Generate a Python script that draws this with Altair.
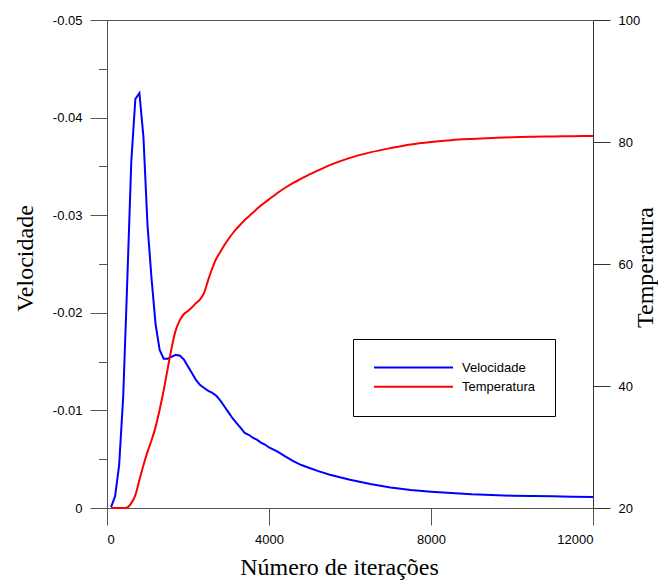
import altair as alt
import pandas as pd

# Iteration number (x)
iteracoes = [
    100, 200, 300, 400, 500, 600, 700, 800, 900, 1000,
    1100, 1200, 1300, 1400, 1500, 1600, 1700, 1800, 1900, 2000,
    2100, 2200, 2300, 2400, 2500, 2600, 2700, 2800, 2900, 3000,
    3100, 3200, 3300, 3400, 3500, 3600, 3700, 3800, 3900, 4000,
    4200, 4400, 4600, 4800, 5000, 5200, 5500, 6000, 6500, 7000,
    7500, 8000, 8500, 9000, 9500, 10000, 10500, 11000, 11500, 12000,
]

# Velocity (left axis)
velocidade = [
    -0.0001, -0.0012, -0.0044, -0.0114, -0.0232, -0.0355, -0.0419, -0.0425, -0.0380, -0.0290,
    -0.0235, -0.0188, -0.0162, -0.0153, -0.0153, -0.0155, -0.0157, -0.0156, -0.0152, -0.0145,
    -0.0138, -0.0131, -0.0126, -0.0123, -0.0120, -0.0118, -0.0115, -0.0110, -0.0104, -0.0098,
    -0.0092, -0.0087, -0.0082, -0.0077, -0.0075, -0.0072, -0.0070, -0.0067, -0.0065, -0.0062,
    -0.0058, -0.0053, -0.0048, -0.0044, -0.0041, -0.0038, -0.0034, -0.0029, -0.00246, -0.0021,
    -0.00184, -0.00167, -0.00154, -0.0014, -0.00133, -0.00126, -0.00123, -0.0012, -0.00116, -0.00113,
]

# Temperature (right axis)
temperatura = [
    20.0, 20.0, 20.0, 20.0, 20.1, 20.8, 22.1, 24.6, 27.0, 29.2,
    31.1, 33.3, 36.1, 39.3, 42.9, 46.4, 49.2, 50.8, 51.8, 52.3,
    52.9, 53.6, 54.2, 55.3, 57.4, 59.3, 60.9, 62.0, 63.1, 64.1,
    65.0, 65.8, 66.5, 67.2, 67.8, 68.4, 69.0, 69.6, 70.1, 70.6,
    71.6, 72.5, 73.3, 74.0, 74.7, 75.3, 76.2, 77.4, 78.3, 79.0,
    79.6, 80.0, 80.3, 80.5, 80.66, 80.78, 80.85, 80.9, 80.95, 81.0,
]

series_names = ["Velocidade", "Temperatura"]
series_colors = ["#0000ff", "#ff0000"]

x_ticks = [0, 4000, 8000, 12000]
vel_ticks = [0, -0.005, -0.01, -0.015, -0.02, -0.025, -0.03, -0.035, -0.04, -0.045, -0.05]
temp_ticks = [20, 40, 60, 80, 100]

df = pd.DataFrame({"it": iteracoes, "vel": velocidade, "temp": temperatura})

AXIS_COLOR = "#555555"
LABEL_FONT = "Liberation Sans"
TITLE_FONT = "Liberation Serif"

x_enc = alt.X(
    "it:Q",
    scale=alt.Scale(domain=[0, 12000], nice=False, zero=False),
    axis=alt.Axis(
        values=x_ticks, format="d", title="Número de iterações",
        tickSize=17, labelPadding=8, grid=False,
        titleX=232, titleY=66, titleAlign="center", titleBaseline="alphabetic",
        titleAnchor="start",
    ),
)

color_enc = alt.Color(
    "serie:N",
    scale=alt.Scale(domain=series_names, range=series_colors),
    title=None,
    legend=alt.Legend(
        orient="none", legendX=246, legendY=319,
        symbolType="stroke", symbolSize=6241, symbolStrokeWidth=2,
        clipHeight=17, rowPadding=2.3, padding=20,
        labelFont=LABEL_FONT, labelFontSize=13, labelOffset=8, labelColor="#000000",
        strokeColor="#000000", fillColor="#ffffff",
    ),
)

vel_line = alt.Chart(df).transform_calculate(serie="'Velocidade'").mark_line(
    strokeWidth=2, interpolate="linear"
).encode(
    x=x_enc,
    y=alt.Y(
        "vel:Q",
        scale=alt.Scale(domain=[0, -0.05], nice=False, zero=False),
        axis=alt.Axis(
            values=vel_ticks, orient="left", title="Velocidade", grid=False,
            labelExpr="abs(round(datum.value*1000)) % 10 == 5 ? '' : (datum.value == 0 ? '0' : '-' + format(abs(datum.value), '.2f'))",
            tickSize={"condition": {"test": "abs(round(datum.value*1000)) % 10 == 5", "value": 8.5}, "value": 17},
            labelPadding=8,
            titleX=-75, titleY=238, titleAngle=270, titleAlign="center", titleBaseline="alphabetic",
            titleAnchor="start",
        ),
    ),
    color=color_enc,
)

temp_line = alt.Chart(df).transform_calculate(serie="'Temperatura'").mark_line(
    strokeWidth=2, interpolate="monotone"
).encode(
    x=x_enc,
    y=alt.Y(
        "temp:Q",
        scale=alt.Scale(domain=[20, 100], nice=False, zero=False),
        axis=alt.Axis(
            values=temp_ticks, orient="right", title="Temperatura", grid=False,
            tickSize=17, labelPadding=8, domainColor="#333333", tickColor="#333333",
            titleX=59, titleY=247, titleAngle=270, titleAlign="center", titleBaseline="alphabetic",
            titleAnchor="start",
        ),
    ),
    color=color_enc,
)

chart = alt.layer(vel_line, temp_line).resolve_scale(y="independent").properties(
    width=486, height=488,
    autosize=alt.AutoSizeParams(type="none"),
    padding={"left": 107, "top": 20, "right": 65, "bottom": 72},
).configure(
    background="#ffffff",
).configure_view(
    stroke=AXIS_COLOR, strokeWidth=1,
).configure_axis(
    domainColor=AXIS_COLOR, tickColor=AXIS_COLOR, domainWidth=1, tickWidth=1,
    labelFont=LABEL_FONT, labelFontSize=13, labelColor="#000000",
    titleFont=TITLE_FONT, titleFontSize=24, titleFontWeight="normal", titleColor="#000000",
)

chart.save("out.html", embed_options={"renderer": "svg", "actions": False})
